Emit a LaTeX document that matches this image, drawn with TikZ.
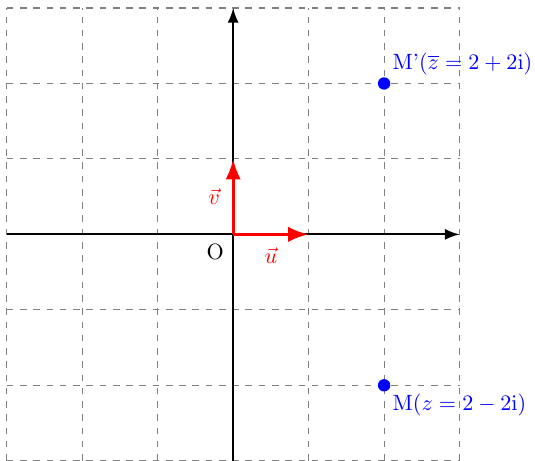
\documentclass[tikz,border=0pt]{standalone}
\usetikzlibrary{arrows.meta,positioning}
\begin{document}
\begin{tikzpicture}[x=1.2cm,y=1.2cm,>=Latex]
  \useasboundingbox (-3.09,-3) rectangle (4.0,3.106);
  \tikzset{
    grille/.style={gray,dashed,line width=0.5pt,step=1.2cm},
    axe/.style={->,black,line width=0.8pt},
    vecteur/.style={->,red,line width=1.4pt},
    point/.style={circle,fill=blue,inner sep=0pt,minimum size=5.6pt},
    etiq/.style={blue,inner sep=3pt}
  }
  \draw[grille] (-3,-3) grid (3,3);
  \coordinate (O) at (0,0);
  \coordinate (xmin) at (-3,0);
  \coordinate (xmax) at (3,0);
  \coordinate (ymin) at (0,-3);
  \coordinate (ymax) at (0,3);
  \coordinate (I) at (1,0);
  \coordinate (J) at (0,1);
  \draw[axe] (xmin) -- (xmax);
  \draw[axe] (ymin) -- (ymax);
  \draw[vecteur] (O) -- node[below=2pt] {$\vec{u}$} (I);
  \draw[vecteur] (O) -- node[left=2pt] {$\vec{v}$} (J);
  \node[below left=1pt] (Olab) at (O) {O};
  \node[point] (Mp) at (2,2) {};
  \node[point] (M) at (2,-2) {};
  \node[etiq,above right=1pt] (Mplab) at (Mp) {M'($\overline{z}=2+2\mathrm{i}$)};
  \node[etiq,below right=1pt] (Mlab) at (M) {M($z=2-2\mathrm{i}$)};
\end{tikzpicture}
\end{document}
